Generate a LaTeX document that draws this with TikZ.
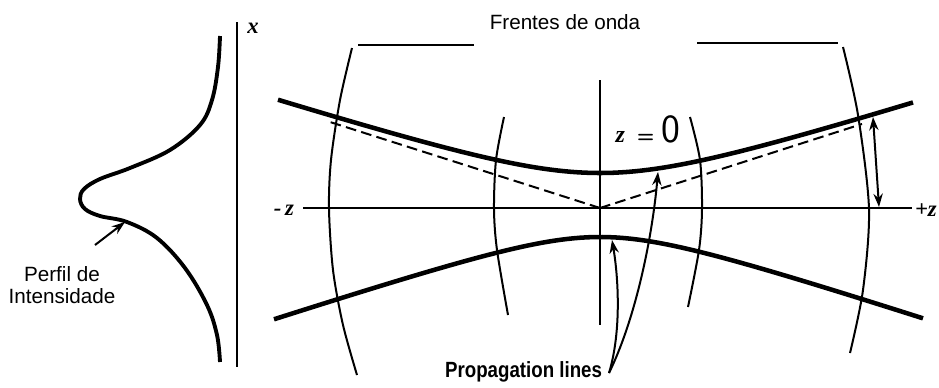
\documentclass[tikz,border=0pt]{standalone}
\usepackage{fontspec}
\setmainfont{Liberation Sans}
\newfontfamily\zserif{Liberation Serif}
\usetikzlibrary{arrows.meta}
\begin{document}
\begin{tikzpicture}[x=0.75pt,y=-0.75pt,
  thinl/.style={line width=1.5pt},
  beam/.style={line width=3.4pt},
  prof/.style={line width=2.9pt},
  dashl/.style={line width=1.5pt,dash pattern=on 8pt off 4pt},
  tip/.style={-{Stealth[length=10pt,width=7pt]}},
  lbl/.style={font=\fontsize{15.5pt}{18pt}\selectfont},
  zl/.style={font=\fontsize{17pt}{18pt}\selectfont\zserif\bfseries\itshape}]
\useasboundingbox (0,0) rectangle (939,387);

% ---- intensity profile ----
\draw[thinl] (237,22) -- (237,367);
\node[zl] (xl) at (253,28) {x};
\draw[prof] plot[smooth,tension=0.6] coordinates {(220,36) (218,67) (212,100) (200,125) (170,150) (130,168) (100,179) (84,189) (80,199) (85,209) (100,216) (127,222) (157,238) (185,268) (207,305) (217,335) (220,362)};
\coordinate (pa) at (95,245);
\coordinate (pb) at (125,222);
\draw[thinl,tip] (pa) -- (pb);
\node[lbl,align=center] (perfil) at (62,285) {Perfil de\\[-2pt]Intensidade};

% ---- top labels and lines ----
\node[lbl] (fr) at (565,22) {Frentes de onda};
\draw[line width=1.8pt] (358,45) -- (474,45);
\draw[line width=1.8pt] (697,43) -- (838,43);

% ---- axes ----
\draw[thinl] (303,208) -- (912,208);
\draw[thinl] (600,80) -- (600,325);
\node[zl] (mz) at (284,210) {-\,z};
\node[zl,anchor=east,inner sep=0pt] (pz) at (937,210) {+z};
\node[anchor=west] (z0) at (611,129) {\fontsize{18pt}{18pt}\selectfont\zserif\bfseries\itshape z\ \ \upshape\sffamily\fontsize{15pt}{24pt}\selectfont = \mdseries\fontsize{30pt}{30pt}\selectfont 0};

% ---- asymptotes ----
\coordinate (o) at (600,208);
\coordinate (al) at (330,122);
\coordinate (ar) at (862,124);
\draw[dashl] (o) -- (al);
\draw[dashl] (o) -- (ar);

% ---- beam envelope ----
\draw[beam] plot[domain=278:913,samples=90] (\x,{208-35*sqrt(1+((\x-600)/110)^2)});
\draw[beam] plot[domain=274:923,samples=90] (\x,{208+29*sqrt(1+((\x-600)/88)^2)});

% ---- wave fronts ----
\draw[thinl] plot[smooth] coordinates {(352,48) (340,100) (331,160) (329,209) (333,270) (343,325) (357,375)};
\draw[thinl] plot[smooth] coordinates {(504,117) (496,160) (494,209) (497,250) (508,315)};
\draw[thinl] plot[smooth] coordinates {(690,117) (700,160) (702,209) (699,250) (688,307)};
\draw[thinl] plot[smooth] coordinates {(843,47) (858,115) (869,209) (863,290) (850,353)};

% ---- propagation lines ----
\node[font=\fontsize{16.5pt}{18pt}\selectfont\bfseries,xscale=0.85,anchor=east] (prop) at (606,372) {Propagation lines};
\coordinate (pe) at (609,373);
\coordinate (b1) at (612,240);
\coordinate (b2) at (658,172);
\draw[thinl,tip] (pe) .. controls (622,330) and (618,275) .. (b1);
\draw[thinl,tip] (pe) .. controls (635,320) and (652,240) .. (b2);

% ---- radius arrow ----
\coordinate (r1) at (873,117);
\coordinate (r2) at (879,207);
\draw[thinl,{Stealth[length=10pt,width=7pt]}-{Stealth[length=10pt,width=7pt]}] (r1) -- (r2);
\end{tikzpicture}
\end{document}
